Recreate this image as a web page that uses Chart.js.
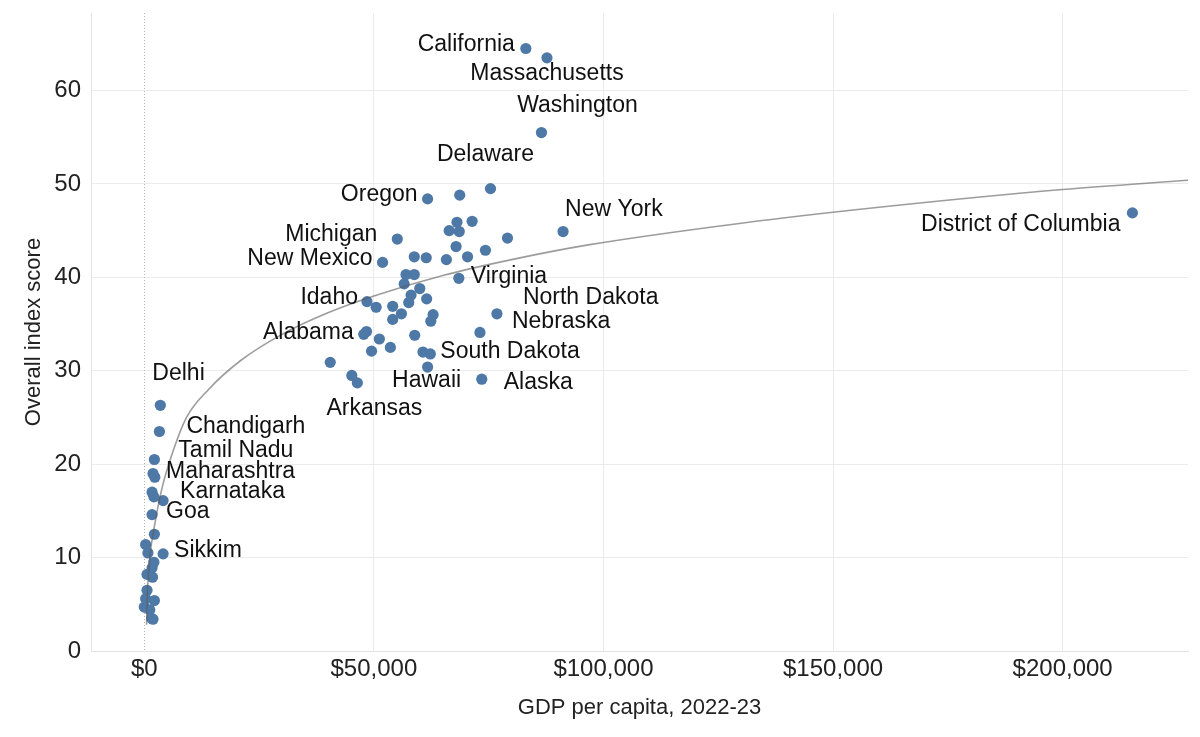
<!DOCTYPE html>
<html>
<head>
<meta charset="utf-8">
<title>Overall index score vs GDP per capita</title>
<script src="https://cdn.jsdelivr.net/npm/chart.js@4.4.1/dist/chart.umd.min.js"></script>
<style>
  html, body { margin: 0; padding: 0; background: #fff; }
  #wrap { width: 1200px; height: 737px; }
</style>
</head>
<body>
<div id="wrap"><canvas id="grafica" width="1200" height="737"></canvas></div>
<script>
// Datos (estados de EE.UU. y de la India)
const names = [
  'California', 'Massachusetts', 'Washington', 'Delaware', '', 'Oregon', '', '', '', '',
  '', 'New York', 'Michigan', '', '', '', '', '', '', 'New Mexico',
  'Virginia', '', '', '', '', '', '', '', 'Idaho', '',
  '', '', '', '', '', 'North Dakota', 'Nebraska', '', 'Alabama', '',
  '', '', '', '', 'South Dakota', 'Hawaii', '', '', 'Arkansas', 'Alaska',
  'District of Columbia',
  'Delhi', 'Chandigarh', 'Tamil Nadu', 'Maharashtra', '', '', '', 'Karnataka', 'Goa', '',
  '', '', 'Sikkim', '', '', '', '', '', '', '',
  '', '', '', ''
]
const gdpPerCapita = [
  83100, 87700, 86500, 75400, 68700, 61700, 68100, 71400, 66400, 68600,
  79100, 91200, 55100, 67900, 74300, 58800, 61400, 70400, 65800, 51900,
  68500, 57000, 58800, 56600, 60000, 58100, 57600, 61500, 48500, 50500,
  54100, 56000, 54100, 62900, 62400, 76800, 73100, 48400, 47800, 51200,
  58900, 53600, 49500, 60700, 62300, 61700, 40500, 45200, 46400, 73500,
  215200,
  3500, 3300, 2200, 1900, 2300, 1700, 2100, 4100, 1700, 2200,
  300, 800, 4100, 2100, 1700, 600, 1800, 600, 300, 2200,
  0, 1200, 1600, 1900
]
const indexScore = [
  64.5, 63.5, 55.5, 49.5, 48.8, 48.4, 45.9, 46.0, 45.0, 44.9,
  44.2, 44.9, 44.1, 43.3, 42.9, 42.2, 42.1, 42.2, 41.9, 41.6,
  39.9, 40.3, 40.3, 39.3, 38.8, 38.1, 37.3, 37.7, 37.4, 36.8,
  36.9, 36.1, 35.5, 36.0, 35.3, 36.1, 34.1, 34.2, 33.9, 33.4,
  33.8, 32.5, 32.1, 32.0, 31.8, 30.4, 30.9, 29.5, 28.7, 29.1,
  46.9,
  26.3, 23.5, 20.5, 19.0, 18.6, 17.0, 16.5, 16.1, 14.6, 12.5,
  11.4, 10.5, 10.4, 9.5, 8.9, 8.2, 7.9, 6.5, 5.6, 5.4,
  4.7, 4.4, 3.5, 3.4
]

// Linea de tendencia
const trendGdp = [500, 700, 1200, 2300, 3750, 6000, 9200, 14000, 21000, 30000, 40000, 50000, 65000, 80000, 97000, 130000, 160000, 200000, 227300]
const trendScore = [2.8, 6.4, 10.0, 13.6, 17.2, 21.0, 25.0, 28.0, 31.1, 33.9, 36.2, 38.0, 40.2, 41.9, 43.5, 45.8, 47.5, 49.4, 50.4]

const xTicks = [0, 50000, 100000, 150000, 200000]
const yTicks = [0, 10, 20, 30, 40, 50, 60]

// Posicion de cada etiqueta respecto a su punto: [alineacion, dx, dy]
const LABEL_POS = {
  'California': ['right', -11, -4],
  'Massachusetts': ['center', 0, 16],
  'Washington': ['center', 36, -27],
  'Delaware': ['center', -5, -34],
  'Oregon': ['right', -10, -4],
  'Michigan': ['right', -20, -4],
  'New Mexico': ['right', -10, -4],
  'Idaho': ['right', -9, -4],
  'Alabama': ['right', -10, -2],
  'Arkansas': ['center', 17, 26],
  'Hawaii': ['center', -1, 14],
  'South Dakota': ['left', 10, -2],
  'Alaska': ['left', 22, 3],
  'Virginia': ['left', 12, -2],
  'North Dakota': ['left', 26, -16],
  'Nebraska': ['left', 32, -11],
  'New York': ['left', 2, -22],
  'District of Columbia': ['right', -12, 12],
  'Delhi': ['left', -8, -32],
  'Chandigarh': ['left', 27, -5],
  'Tamil Nadu': ['left', 24, -9],
  'Maharashtra': ['left', 13, -2],
  'Karnataka': ['left', 17, -9],
  'Goa': ['left', 14, -3],
  'Sikkim': ['left', 11, -3],
}

const FONT = "'Liberation Sans', Arial, sans-serif"
const BLUE = '#4e79a7'
const GRID = '#ebebeb'

Chart.defaults.font.family = FONT
Chart.defaults.color = '#222'

const points = gdpPerCapita.map(function(g, i) { return { x: g, y: indexScore[i] } })
const trend = trendGdp.map(function(g, i) { return { x: g, y: trendScore[i] } })

// linea punteada vertical en $0
const zeroLine = {
  id: 'zeroLine',
  beforeDatasetsDraw(chart) {
    const { ctx, chartArea, scales } = chart
    const px = Math.round(scales.x.getPixelForValue(0)) + 0.5
    ctx.save()
    ctx.strokeStyle = '#b5b5b5'
    ctx.lineWidth = 1
    ctx.setLineDash([1, 2])
    ctx.beginPath()
    ctx.moveTo(px, chartArea.top)
    ctx.lineTo(px, chartArea.bottom)
    ctx.stroke()
    ctx.restore()
  }
}

// etiquetas de los puntos
const pointLabels = {
  id: 'pointLabels',
  afterDatasetsDraw(chart) {
    const { ctx } = chart
    const meta = chart.getDatasetMeta(1)
    ctx.save()
    ctx.font = '23px ' + FONT
    ctx.fillStyle = '#111'
    ctx.textBaseline = 'middle'
    meta.data.forEach(function(el, i) {
      const name = names[i]
      if (!name || !LABEL_POS[name]) return
      const p = LABEL_POS[name]
      ctx.textAlign = p[0]
      ctx.fillText(name, el.x + p[1], el.y + p[2])
    })
    ctx.restore()
  }
}

new Chart(document.getElementById('grafica'), {
  type: 'scatter',
  data: {
    datasets: [
      {
        type: 'line',
        label: 'Tendencia',
        data: trend,
        borderColor: 'rgba(90,90,90,0.6)',
        borderWidth: 1.6,
        pointRadius: 0,
        fill: false,
        cubicInterpolationMode: 'monotone',
      },
      {
        label: 'Estados',
        data: points,
        backgroundColor: BLUE,
        borderColor: BLUE,
        borderWidth: 0,
        pointRadius: 5.6,
      }
    ]
  },
  options: {
    responsive: false,
    animation: false,
    layout: { padding: { top: 13, right: 12, left: 21, bottom: 16 } },
    plugins: {
      legend: { display: false },
      tooltip: { enabled: false }
    },
    scales: {
      x: {
        type: 'linear',
        min: -11600,
        max: 227300,
        afterBuildTicks(scale) { scale.ticks = xTicks.map(function(v) { return { value: v } }) },
        afterFit(scale) { scale.height = 70 },
        grid: {
          color: function(c) { return c.tick && c.tick.value === 0 ? 'rgba(0,0,0,0)' : GRID },
          drawTicks: false,
        },
        border: { display: true, color: '#e3e3e3' },
        ticks: {
          padding: 4,
          font: { size: 24 },
          color: '#222',
          maxRotation: 0,
          callback: function(v) { return '$' + Number(v).toLocaleString('en-US') }
        },
        title: {
          display: true,
          text: 'GDP per capita, 2022-23',
          font: { size: 22 },
          color: '#222',
          padding: { top: 4, bottom: 0 }
        }
      },
      y: {
        type: 'linear',
        min: 0,
        max: 68.3,
        afterBuildTicks(scale) { scale.ticks = yTicks.map(function(v) { return { value: v } }) },
        afterFit(scale) {
          scale.width = 70
          scale.paddingTop = 0
          scale.paddingBottom = 0
        },
        grid: { color: GRID, drawTicks: false },
        border: { display: true, color: '#e3e3e3' },
        ticks: {
          padding: 10,
          font: { size: 24 },
          color: '#222'
        },
        title: {
          display: true,
          text: 'Overall index score',
          font: { size: 22 },
          color: '#222',
          padding: { top: 0, bottom: 0 }
        }
      }
    }
  },
  plugins: [zeroLine, pointLabels]
})
</script>
</body>
</html>
